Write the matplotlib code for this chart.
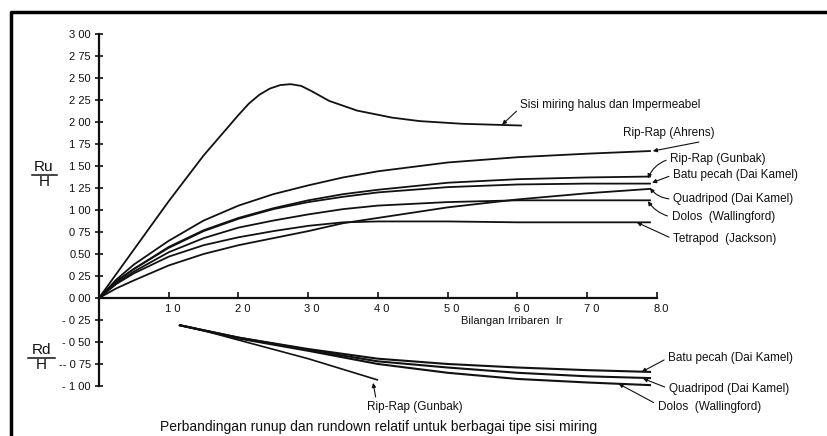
import matplotlib
matplotlib.use("Agg")
import matplotlib.pyplot as plt
import matplotlib.transforms as mtransforms
from matplotlib.lines import Line2D

plt.rcParams['font.family'] = ['Liberation Sans', 'DejaVu Sans']

# ---------------- data ----------------
# Run-up (Ru/H) vs Irribaren number
ir_smooth = [0, 0.5, 1.0, 1.5, 2.0, 2.15, 2.3, 2.45, 2.6, 2.75, 2.9, 3.05, 3.3, 3.7, 4.2, 4.6, 5.2, 6.05]
ru_smooth = [0, 0.55, 1.10, 1.62, 2.08, 2.21, 2.31, 2.38, 2.42, 2.43, 2.41, 2.35, 2.24, 2.13, 2.05, 2.01, 1.98, 1.96]

ir_up = [0, 0.25, 0.5, 1.0, 1.5, 2.0, 2.5, 3.0, 3.5, 4.0, 5.0, 6.0, 7.0, 7.9]
ru_ahrens = [0, 0.21, 0.38, 0.65, 0.88, 1.05, 1.18, 1.28, 1.37, 1.44, 1.54, 1.60, 1.64, 1.67]
ru_gunbak = [0, 0.19, 0.33, 0.58, 0.77, 0.91, 1.02, 1.11, 1.18, 1.23, 1.31, 1.35, 1.37, 1.38]
ru_batu = [0, 0.19, 0.33, 0.57, 0.76, 0.90, 1.01, 1.09, 1.15, 1.20, 1.26, 1.29, 1.30, 1.30]
ru_dolos = [0, 0.17, 0.30, 0.52, 0.68, 0.80, 0.88, 0.95, 1.01, 1.05, 1.09, 1.11, 1.11, 1.11]
ru_tetrapod = [0, 0.16, 0.28, 0.47, 0.60, 0.69, 0.76, 0.82, 0.86, 0.87, 0.87, 0.86, 0.86, 0.86]
ru_quadripod = [0, 0.11, 0.20, 0.37, 0.50, 0.60, 0.68, 0.76, 0.85, 0.91, 1.03, 1.12, 1.19, 1.24]

# Run-down (Rd/H)
ir_down = [1.16, 2.0, 3.0, 4.0, 5.0, 6.0, 7.0, 7.9]
rd_batu = [-0.31, -0.45, -0.58, -0.69, -0.75, -0.79, -0.82, -0.84]
rd_quadripod = [-0.31, -0.45, -0.59, -0.72, -0.79, -0.85, -0.89, -0.91]
rd_dolos = [-0.31, -0.46, -0.60, -0.75, -0.85, -0.92, -0.96, -0.99]
ir_down_gunbak = [1.16, 1.5, 1.87, 3.0, 3.99]
rd_gunbak = [-0.31, -0.37, -0.45, -0.69, -0.93]

x_ticks = [1, 2, 3, 4, 5, 6, 7, 8]
x_ticklabels = ["1 0", "2 0", "3 0", "4 0", "5 0", "6 0", "7 0", "8.0"]
y_ticks = [3.0, 2.75, 2.5, 2.25, 2.0, 1.75, 1.5, 1.25, 1.0, 0.75, 0.5, 0.25, 0.0,
           -0.25, -0.5, -0.75, -1.0]
y_ticklabels = ["3 00", "2 75", "2 50", "2 25", "2 00", "1 75", "1 50", "1 25", "1 00",
                "0 75", "0.50", "0 25", "0 00", "- 0 25", "- 0 50", "-- 0 75", "- 1 00"]

up_labels = ["Sisi miring halus dan Impermeabel", "Rip-Rap (Ahrens)", "Rip-Rap (Gunbak)",
             "Batu pecah (Dai Kamel)", "Quadripod (Dai Kamel)", "Dolos  (Wallingford)",
             "Tetrapod  (Jackson)"]
down_labels = ["Batu pecah (Dai Kamel)", "Quadripod (Dai Kamel)", "Dolos  (Wallingford)",
               "Rip-Rap (Gunbak)"]

# ---------------- figure ----------------
fig = plt.figure(figsize=(8.27, 4.36), dpi=100)
ax = fig.add_axes([0.1197, 0.1147, 0.6747, 0.8073])
ax.set_xlim(0, 8)
ax.set_ylim(-1.0, 3.0)

lc = '#111111'
lw = 1.3
ax.plot(ir_smooth, ru_smooth, color=lc, lw=lw, clip_on=False)
for ys in [ru_ahrens, ru_gunbak, ru_batu, ru_dolos, ru_tetrapod, ru_quadripod]:
    ax.plot(ir_up, ys, color=lc, lw=lw, clip_on=False)
for ys in [rd_batu, rd_quadripod, rd_dolos]:
    ax.plot(ir_down, ys, color=lc, lw=1.5, clip_on=False)
ax.plot(ir_down_gunbak, rd_gunbak, color=lc, lw=1.2, clip_on=False)

# spines
for s in ['top', 'right']:
    ax.spines[s].set_visible(False)
ax.spines['bottom'].set_position(('data', 0))
ax.spines['left'].set_linewidth(1.6)
ax.spines['bottom'].set_linewidth(1.6)
ax.spines['left'].set_color(lc)
ax.spines['bottom'].set_color(lc)

ax.set_xticks(x_ticks)
ax.set_xticklabels(x_ticklabels)
ax.set_yticks(y_ticks)
ax.set_yticklabels(y_ticklabels)
ax.tick_params(axis='x', direction='in', length=4, width=1.2, pad=4, labelsize=8,
               colors=lc)
ax.tick_params(axis='y', direction='inout', length=6, width=1.2, pad=3, labelsize=8,
               colors=lc)
shift = mtransforms.ScaledTranslation(4 / 100, 0, fig.dpi_scale_trans)
for t in ax.get_xticklabels():
    t.set_transform(t.get_transform() + shift)
ax.patch.set_alpha(0)

ax.text(5.92, -0.265, "Bilangan Irribaren  Ir", fontsize=8, ha='center', va='center',
        color=lc)

# annotations
ap = dict(arrowstyle='-|>', color=lc, lw=0.8, mutation_scale=6, shrinkA=1, shrinkB=0)
up_text = [(6.04, 2.19), (7.51, 1.875), (8.19, 1.58), (8.23, 1.40), (8.23, 1.125),
           (8.21, 0.92), (8.23, 0.67)]
up_tip = [(5.78, 1.97), (7.94, 1.67), (7.87, 1.36), (7.93, 1.31), (7.90, 1.25),
          (7.87, 1.10), (7.71, 0.86)]
up_rad = [0.0, 0.0, 0.25, 0.0, -0.25, -0.2, 0.0]
up_rel = [(0, 0.3), (1, 0.0), (0, 0.5), (0, 0.5), (0, 0.5), (0, 0.5), (0, 0.5)]
for lab, xt, tip, rad, rel in zip(up_labels, up_text, up_tip, up_rad, up_rel):
    props = dict(ap, connectionstyle=f"arc3,rad={rad}", relpos=rel)
    ax.annotate(lab, xy=tip, xytext=xt, ha='left', va='center', fontsize=8.5,
                color=lc, arrowprops=props, annotation_clip=False)

down_text = [(8.16, -0.68), (8.17, -1.03), (8.01, -1.24), (3.84, -1.24)]
down_tip = [(7.78, -0.84), (7.80, -0.915), (7.45, -0.975), (3.93, -0.965)]
down_rad = [0.0, 0.0, 0.0, 0.0]
down_rel = [(0, 0.5), (0, 0.5), (0, 0.7), (0.1, 1.0)]
for lab, xt, tip, rad, rel in zip(down_labels, down_text, down_tip, down_rad, down_rel):
    props = dict(ap, connectionstyle=f"arc3,rad={rad}", relpos=rel)
    ax.annotate(lab, xy=tip, xytext=xt, ha='left', va='center', fontsize=8.5,
                color=lc, arrowprops=props, annotation_clip=False)

# Ru/H and Rd/H fraction labels
fig.text(0.053, 0.617, "Ru", fontsize=11, ha='center', va='center', color=lc)
fig.text(0.053, 0.582, "H", fontsize=11, ha='center', va='center', color=lc)
fig.add_artist(Line2D([0.039, 0.069], [0.599, 0.599], color=lc, lw=1.1,
                      transform=fig.transFigure))
fig.text(0.0496, 0.197, "Rd", fontsize=11, ha='center', va='center', color=lc)
fig.text(0.0496, 0.162, "H", fontsize=11, ha='center', va='center', color=lc)
fig.add_artist(Line2D([0.034, 0.066], [0.179, 0.179], color=lc, lw=1.1,
                      transform=fig.transFigure))

# caption
fig.text(0.458, 0.021, "Perbandingan runup dan rundown relatif untuk berbagai tipe sisi miring",
         fontsize=10, ha='center', va='center', color=lc)

# outer frame (left and top visible)
fig.add_artist(Line2D([0.0127, 0.0127, 1.0], [0.0, 0.9725, 0.9725], color='black', lw=2.5,
                      transform=fig.transFigure))

fig.savefig("out.png", dpi=100)
